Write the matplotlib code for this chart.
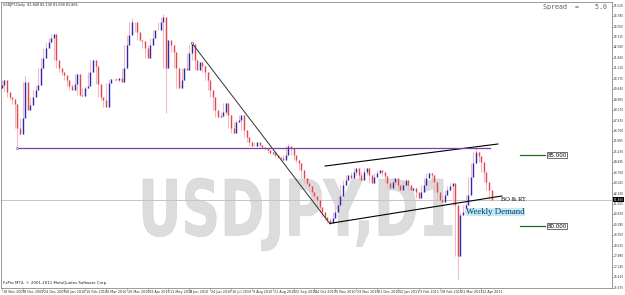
import matplotlib
matplotlib.use("Agg")
import matplotlib.pyplot as plt
from matplotlib.textpath import TextPath
from matplotlib.patches import PathPatch
from matplotlib.font_manager import FontProperties
from matplotlib.transforms import Affine2D, blended_transform_factory

# USDJPY daily closes, one value per two trading days
first_open = 89.70
closes = [
    89.93, 90.29, 89.44, 89.09, 88.95, 88.60, 86.91, 86.48, 87.61, 90.15,
    88.17, 88.53, 89.09, 89.58, 89.93, 91.13, 91.84, 92.54, 92.96, 93.24,
    93.53, 91.70, 91.13, 90.85, 90.64, 90.29, 89.86, 89.58, 90.00, 90.71,
    89.23, 89.16, 89.72, 89.86, 90.85, 91.70, 91.27, 90.00, 89.09, 88.88,
    88.39, 90.07, 90.36, 90.36, 90.29, 90.43, 90.15, 91.13, 92.75, 93.46,
    94.37, 94.37, 93.67, 93.10, 93.03, 92.54, 91.84, 92.75, 93.24, 93.81,
    93.81, 94.37, 94.72, 91.13, 93.10, 92.75, 92.26, 91.13, 89.72, 90.29,
    91.13, 90.99, 92.19, 92.82, 91.70, 90.99, 91.55, 91.27, 90.85, 90.29,
    89.58, 89.09, 88.17, 87.68, 87.75, 88.03, 88.67, 87.82, 86.91, 86.55,
    87.33, 87.47, 87.82, 86.77, 86.27, 85.92, 85.64, 85.64, 85.92, 85.71,
    85.57, 85.50, 85.36, 85.15, 85.22, 85.01, 84.86, 84.79, 84.65, 85.01,
    85.64, 85.50, 85.01, 84.65, 84.44, 83.95, 83.39, 83.03, 82.82, 82.40,
    82.12, 81.84, 81.34, 80.99, 80.64, 80.43, 80.22, 80.57, 80.99, 81.48,
    82.12, 82.89, 83.24, 83.60, 83.39, 83.81, 84.09, 83.60, 83.24, 83.81,
    84.09, 83.60, 83.03, 83.46, 83.74, 83.95, 83.81, 83.53, 83.03, 82.68,
    83.10, 83.39, 82.89, 82.54, 82.89, 83.24, 82.89, 82.54, 82.68, 82.40,
    81.98, 82.40, 82.89, 83.39, 83.74, 83.60, 83.10, 82.40, 81.84, 81.70,
    82.19, 82.54, 82.82, 83.03, 81.48, 77.90, 80.78, 80.99, 81.48, 82.19,
    83.46, 84.44, 85.22, 84.93, 84.51, 83.81, 83.10, 82.54, 81.865,
]
# long wicks
spike_bars = [6, 9, 50, 62, 63, 110, 175, 182]
spike_high = [86.91, 90.57, 94.65, 94.93, 94.72, 85.78, 81.48, 85.52]
spike_low = [85.50, 88.17, 93.46, 94.37, 87.96, 85.01, 76.25, 84.93]

date_labels = ["18 Nov 2009", "3 Dec 2009", "24 Dec 2009", "18 Jan 2010", "10 Feb 2010",
               "4 Mar 2010", "26 Mar 2010", "19 Apr 2010", "11 May 2010", "2 Jun 2010",
               "24 Jun 2010", "16 Jul 2010", "9 Aug 2010", "31 Aug 2010", "22 Sep 2010",
               "14 Oct 2010", "5 Nov 2010", "29 Nov 2010", "21 Dec 2010", "12 Jan 2011",
               "3 Feb 2011", "28 Feb 2011", "21 Mar 2011", "12 Apr 2011"]
price_top = 95.52
price_step = 0.735
n_price_ticks = 28
last_price = 81.865

# drawn objects (bar index, price)
downtrend = ([73.0, 126.0], [92.89, 80.15])
channel_upper = ([124.1, 190.4], [84.23, 85.78])
channel_lower = ([126.0, 191.9], [80.19, 82.12])
resistance = ([5.9, 187.4], [85.50, 85.50])
levels = [85.0, 80.0]
level_span = [198.9, 208.5]

BLUE = "#2a2ab4"
RED = "#e2454a"
WICK = "#f3b8c4"

fig = plt.figure(figsize=(6.25, 2.95), dpi=100)
ax = fig.add_axes([1 / 625, 1 - 288 / 295, 611 / 625, 286 / 295])
ax.set_facecolor("white")

# watermark
tp = TextPath((0, 0), "USDJPY,D1", size=1, prop=FontProperties(family="DejaVu Sans", weight="bold"))
bb = tp.get_extents()
sx = (452 - 143) / 625 / bb.width
sy = (251 - 178) / 295 / bb.height
tr = Affine2D().translate(-bb.x0, -bb.y0).scale(sx, sy).translate(143 / 625, 1 - 251 / 295) + fig.transFigure
ax.add_patch(PathPatch(tp, transform=tr, facecolor="#dcdcdc", edgecolor="#d2d2d2", lw=0.4, zorder=0))

n = len(closes)
opens = [first_open] + closes[:-1]
idx = list(range(n))

# pale wicks
wl, wh = [], []
for i in idx:
    nxt = closes[i + 1] if i + 1 < n else closes[i]
    lo = min(opens[i], closes[i], nxt)
    hi = max(opens[i], closes[i], nxt)
    if i in spike_bars:
        j = spike_bars.index(i)
        lo = min(lo, spike_low[j])
        hi = max(hi, spike_high[j])
    wl.append(lo)
    wh.append(hi)
ax.vlines(idx, wl, wh, colors=WICK, lw=0.8, zorder=2)
cols = [BLUE if c >= o else RED for o, c in zip(opens, closes)]
ax.vlines(idx, opens, closes, colors=cols, lw=1.0, zorder=3)

# current price line
ax.axhline(last_price, color="#c4c4c4", lw=0.7, zorder=1)

ax.plot(*downtrend, color="#303030", lw=0.7, zorder=4)
ax.plot(*channel_upper, color="black", lw=0.8, zorder=4)
ax.plot(*channel_lower, color="black", lw=0.8, zorder=4)
ax.plot(*resistance, color="#7b3fa3", lw=0.9, zorder=4)
ax.plot(resistance[0][0], resistance[1][0], "o", ms=1.5, mfc="white", mec="#7b3fa3", mew=0.4, zorder=5)
ax.plot(downtrend[0][0], downtrend[1][0], "o", ms=1.5, mfc="white", mec="#303030", mew=0.4, zorder=5)

for lv in levels:
    ax.plot(level_span, [lv, lv], color="#1d6b1d", lw=0.9, zorder=4)
    ax.text(level_span[1] + 1.0, lv, "%.3f" % lv, fontsize=4, ha="left", va="center",
            family="DejaVu Sans", bbox=dict(facecolor="white", edgecolor="black", lw=0.4, pad=0.4), zorder=6)

ax.text(191.6, 81.86, "BO & RT", fontsize=4.6, family="Liberation Serif", ha="left", va="center", zorder=6)
ax.text(178.2, 80.99, "Weekly Demand", fontsize=6.3, family="Liberation Serif", color="#1b2a6b",
        ha="left", va="center", bbox=dict(facecolor="#bdeef3", edgecolor="none", pad=0.3), zorder=6)

kmin = -0.27
ax.set_xlim(kmin, kmin + 611 / 2.606)
ax.set_ylim(75.64, 95.78)

for s in ax.spines.values():
    s.set_color("#8a8a8a")
    s.set_linewidth(0.6)
ax.set_xticks([])
ax.set_yticks([])

# date axis
bt = blended_transform_factory(ax.transData, ax.transAxes)
for j, lab in enumerate(date_labels):
    k = j * 8
    ax.plot([k, k], [0, -0.012], transform=bt, color="#8a8a8a", lw=0.4, clip_on=False)
    ax.text(k + 0.4, -0.006, lab, transform=bt, fontsize=2.4, ha="left", va="top", color="#303030")

# price axis
rt = blended_transform_factory(ax.transAxes, ax.transData)
for j in range(n_price_ticks):
    p = price_top - j * price_step
    ax.plot([1, 1.003], [p, p], transform=rt, color="#8a8a8a", lw=0.4, clip_on=False)
    ax.text(1.0025, p, "%.3f" % p, transform=rt, fontsize=2.1, ha="left", va="center", color="#303030")
ax.text(1.0025, last_price, "%.3f" % last_price, transform=rt, fontsize=2.1, ha="left", va="center",
        color="white", bbox=dict(facecolor="black", edgecolor="none", pad=0.3), zorder=7, clip_on=False)

fig.text(3 / 625, 1 - 5 / 295, "USDJPY,Daily  81.840 82.130 81.690 81.865", fontsize=2.4,
         ha="left", va="center", color="#202020")
ax.text(0.003, 0.012, "FxPro MT4, \u00a9 2001-2011 MetaQuotes Software Corp.", transform=ax.transAxes,
        fontsize=2.8, ha="left", va="bottom", color="#202020")
fig.text(543 / 625, 1 - 7 / 295, "Spread  =    5.0", fontsize=4.8, family="DejaVu Sans Mono",
         ha="left", va="center", color="#606060")

fig.savefig("out.png", dpi=100)
